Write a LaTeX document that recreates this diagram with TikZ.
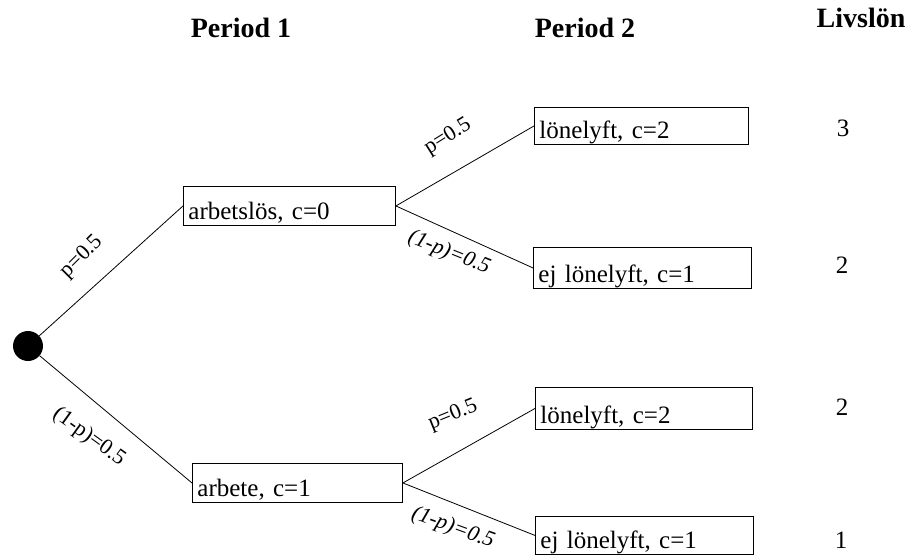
\documentclass[tikz,border=0pt]{standalone}
\usepackage{fontspec}
\setmainfont{Liberation Serif}
\begin{document}
\begin{tikzpicture}[x=1pt,y=-1pt,
  box/.style={draw, line width=0.9pt, inner xsep=5pt, inner ysep=0pt, align=left,
    text depth=6pt, font=\fontsize{25}{30}\selectfont},
  conn/.style={line width=0.8pt},
  head/.style={font=\fontsize{28}{32}\selectfont\bfseries, anchor=base},
  lbl/.style={font=\fontsize{22}{26}\selectfont, inner sep=1pt},
  ilbl/.style={font=\fontsize{22}{26}\selectfont\itshape, inner sep=1pt},
  val/.style={font=\fontsize{25}{30}\selectfont, anchor=base}]
\useasboundingbox (0,0) rectangle (912,556);

% headers
\node[head] (h1) at (241,38) {Period 1};
\node[head] (h2) at (585,38) {Period 2};
\node[head] (h3) at (861,28) {Livslön};

% root
\node[circle, fill=black, minimum size=30pt, inner sep=0pt] (dot) at (28,346) {};

% period 1
\node[box, anchor=north west, text width=202pt, minimum height=39pt, text height=33pt] (A) at (183,186) {arbetslös, c=0};
\node[box, anchor=north west, text width=200pt, minimum height=39pt, text height=33pt] (B) at (192,463) {arbete, c=1};

% period 2
\node[box, anchor=north west, text width=204pt, minimum height=37pt, text height=31pt] (C) at (534,107) {lönelyft, c=2};
\node[box, anchor=north west, text width=208pt, minimum height=41pt, text height=35pt] (D) at (533,247) {ej lönelyft, c=1};
\node[box, anchor=north west, text width=207pt, minimum height=42pt, text height=36pt] (E) at (535,387) {lönelyft, c=2};
\node[box, anchor=north west, text width=208pt, minimum height=38pt, text height=32pt] (F) at (535,516) {ej lönelyft, c=1};

% connectors
\draw[conn] (dot) -- (A.west);
\draw[conn] (dot) -- (B.west);
\draw[conn] (A.east) -- (C.west);
\draw[conn] (A.east) -- (D.west);
\draw[conn] (B.east) -- (E.west);
\draw[conn] (B.east) -- (F.west);

% branch labels
\node[lbl, rotate=45] (l1) at (82,257) {p=0.5};
\node[lbl, rotate=-36] (l2) at (89,437) {(1-p)=0.5};
\node[lbl, rotate=32] (l3) at (448,137) {p=0.5};
\node[ilbl, rotate=-22] (l4) at (449,253) {(1-p)=0.5};
\node[lbl, rotate=22] (l5) at (453,415) {p=0.5};
\node[ilbl, rotate=-20] (l6) at (453,528) {(1-p)=0.5};

% lifetime wages
\node[val] (v1) at (843,137) {3};
\node[val] (v2) at (842,273) {2};
\node[val] (v3) at (842,415) {2};
\node[val] (v4) at (841,548) {1};
\end{tikzpicture}
\end{document}
